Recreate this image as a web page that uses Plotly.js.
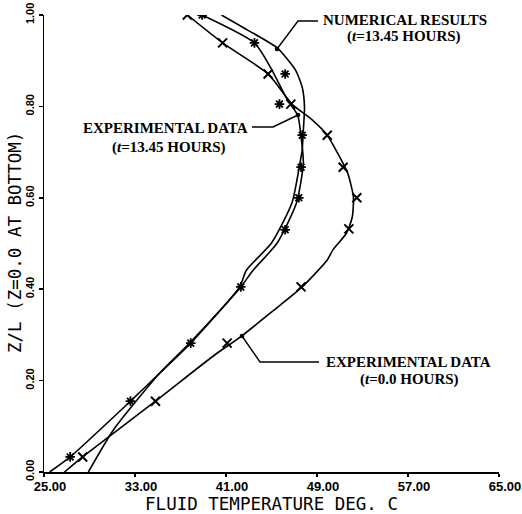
<!DOCTYPE html>
<html>
<head>
<meta charset="utf-8">
<script src="https://cdn.plot.ly/plotly-3.0.1.min.js"></script>
<style>html,body{margin:0;padding:0;background:#fff;}#chart{width:522px;height:514px;}</style>
</head>
<body>
<div id="chart"></div>
<script>
// ---- Data ----
// Experimental data, t = 0.0 hours (x markers)
const expT0Temp = [28.4, 34.8, 41.1, 47.6, 51.8, 52.5, 51.3, 49.9, 46.7, 44.7, 40.7, 37.6];
const expT0Z    = [0.033, 0.155, 0.282, 0.405, 0.532, 0.600, 0.667, 0.737, 0.805, 0.871, 0.939, 1.0];
// Experimental data, t = 13.45 hours (asterisk markers)
const expT13Temp = [27.3, 32.6, 37.9, 42.3, 46.2, 47.4, 47.6, 47.7, 45.7, 46.2, 43.5, 38.9];
const expT13Z    = [0.033, 0.155, 0.282, 0.405, 0.530, 0.600, 0.667, 0.737, 0.805, 0.871, 0.939, 1.0];
// Fitted curve through t = 0.0 data
const fitT0Temp = [26.8, 28.4, 34.8, 40.0, 42.4, 45.0, 47.7, 49.9, 50.4, 51.6, 52.1, 52.2, 51.7, 51.0, 49.9, 48.6, 46.8, 44.7, 40.7, 37.6];
const fitT0Z    = [0.0, 0.033, 0.155, 0.256, 0.298, 0.350, 0.405, 0.464, 0.486, 0.523, 0.558, 0.602, 0.654, 0.689, 0.737, 0.770, 0.805, 0.871, 0.939, 1.0];
// Fitted curve through t = 13.45 data
const fitT13Temp = [25.5, 27.3, 32.6, 35.2, 37.9, 42.3, 43.4, 45.5, 47.2, 47.8, 47.6, 47.3, 46.4, 44.9, 43.5, 38.9];
const fitT13Z    = [0.0, 0.033, 0.155, 0.217, 0.282, 0.405, 0.442, 0.501, 0.589, 0.676, 0.733, 0.781, 0.814, 0.886, 0.939, 1.0];
// Numerical results, t = 13.45 hours
const numTemp = [28.9, 31.1, 35.2, 37.8, 42.2, 42.8, 45.0, 46.8, 47.5, 47.7, 47.8, 47.9, 47.7, 47.1, 45.5, 42.9, 40.6];
const numZ    = [0.0, 0.092, 0.217, 0.282, 0.405, 0.442, 0.501, 0.589, 0.676, 0.705, 0.748, 0.799, 0.842, 0.880, 0.928, 0.967, 1.0];
// Axis ticks
const xTicks = [25, 33, 41, 49, 57, 65];
const yTicks = [0, 0.2, 0.4, 0.6, 0.8, 1.0];

// ---- Geometry helpers (pixel -> data) for labels & leaders ----
const X0 = 44, X1 = 499, Y0 = 472, Y1 = 15;
const px = p => 25 + (p - X0) * 40 / (X1 - X0);
const py = p => (Y0 - p) / (Y0 - Y1);

const lineStyle = {color: '#000', width: 1.6, shape: 'spline', smoothing: 0.6};
const traces = [
  {x: fitT0Temp, y: fitT0Z, mode: 'lines', line: lineStyle, hoverinfo: 'skip'},
  {x: fitT13Temp, y: fitT13Z, mode: 'lines', line: lineStyle, hoverinfo: 'skip'},
  {x: numTemp, y: numZ, mode: 'lines', line: lineStyle, hoverinfo: 'skip'},
  {x: expT0Temp, y: expT0Z, mode: 'markers',
   marker: {symbol: 'x-thin-open', size: 9, color: '#000', line: {color: '#000', width: 2}}},
  {x: expT13Temp, y: expT13Z, mode: 'markers',
   marker: {symbol: 'asterisk-open', size: 8, color: '#000', line: {color: '#000', width: 1.8}}}
];

const lblFont = {family: '"Liberation Serif", "Times New Roman", serif', size: 15, color: '#000'};
const axTitleFont = {family: '"DejaVu Sans Mono", monospace', size: 17.5, color: '#000'};
function lbl(text, cx, cy) {
  return {text: '<b>' + text + '</b>', x: px(cx), y: py(cy), xref: 'x', yref: 'y',
          showarrow: false, font: lblFont, xanchor: 'center', yanchor: 'middle'};
}
function leader(pts) {
  let d = '';
  pts.forEach((p, i) => { d += (i ? ' L ' : 'M ') + px(p[0]) + ',' + py(p[1]); });
  return {type: 'path', path: d, xref: 'x', yref: 'y', line: {color: '#000', width: 1.4}};
}
function dotPx(cx, cy) {
  const r = 2.3;
  return {type: 'circle', xref: 'x', yref: 'y', x0: px(cx - r), x1: px(cx + r), y0: py(cy + r), y1: py(cy - r),
          fillcolor: '#000', line: {width: 0}};
}

const layout = {
  width: 522, height: 514,
  margin: {l: 44, r: 23, t: 15, b: 42, pad: 0},
  paper_bgcolor: '#fff', plot_bgcolor: '#fff',
  showlegend: false,
  xaxis: {
    range: [25, 65], tickvals: xTicks, tickformat: '.2f',
    showline: true, linecolor: '#000', linewidth: 1.5, mirror: false,
    ticks: 'outside', ticklen: 3, tickwidth: 1.5, tickcolor: '#000',
    showgrid: false, zeroline: false, ticklabelshift: 6, ticklabelstandoff: -1,
    tickfont: {family: '"Liberation Sans", Arial, sans-serif', size: 13, color: '#000', weight: 'bold'},
    title: {text: 'FLUID TEMPERATURE DEG. C', standoff: 1, font: axTitleFont}
  },
  yaxis: {
    range: [0, 1], tickvals: yTicks, tickformat: '.2f', tickangle: -90,
    showline: true, linecolor: '#000', linewidth: 1.5, mirror: false,
    ticks: 'outside', ticklen: 4, tickwidth: 1.5, tickcolor: '#000',
    showgrid: false, zeroline: false,
    tickfont: {family: '"Liberation Sans", Arial, sans-serif', size: 11, color: '#000', weight: 'bold'}
  },
  annotations: [
    {text: 'Z/L (Z=0.0 AT BOTTOM)', textangle: -90, xref: 'paper', yref: 'paper',
     x: (15 - X0) / (X1 - X0), y: py(243), xanchor: 'center', yanchor: 'middle',
     showarrow: false, font: axTitleFont},
    lbl('NUMERICAL RESULTS', 405, 20),
    lbl('(<i>t</i>=13.45 HOURS)', 404, 36),
    lbl('EXPERIMENTAL DATA', 165, 128),
    lbl('(<i>t</i>=13.45 HOURS)', 169, 147),
    lbl('EXPERIMENTAL DATA', 408, 362),
    lbl('(<i>t</i>=0.0 HOURS)', 409, 379)
  ],
  shapes: [
    leader([[277, 49], [298, 21], [318, 21]]),
    leader([[252, 127], [273, 127], [298, 115]]),
    leader([[242, 336], [260, 362], [319, 362]]),
    dotPx(277, 49), dotPx(298, 115), dotPx(242, 336)
  ]
};

Plotly.newPlot('chart', traces, layout, {displayModeBar: false, staticPlot: true});
</script>
</body>
</html>
